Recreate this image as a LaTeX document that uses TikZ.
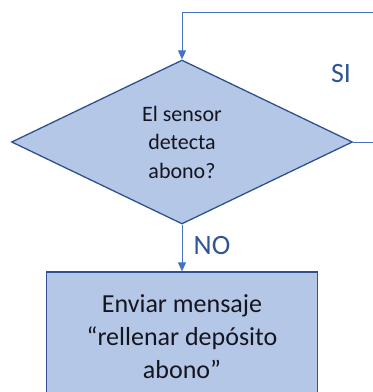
\documentclass[tikz,border=0pt]{standalone}
\usepackage{fontspec}
\setmainfont{Carlito}
\usetikzlibrary{shapes.geometric,arrows.meta}
\definecolor{relleno}{HTML}{B4C7E7}
\definecolor{borde}{HTML}{2F528F}
\definecolor{linea}{HTML}{4472C4}
\definecolor{etiqueta}{HTML}{2F5597}
\definecolor{texto}{HTML}{15151F}

\begin{document}
\begin{tikzpicture}[x=1pt,y=-1pt,
  decision/.style={diamond, aspect=2.08, draw=borde, fill=relleno, line width=1.3pt,
    minimum width=341pt, minimum height=164pt, inner sep=0pt, align=center,
    text=texto, font=\fontsize{22}{28.5}\selectfont},
  proceso/.style={rectangle, draw=borde, fill=relleno, line width=1.3pt,
    minimum width=271pt, minimum height=130pt, inner sep=0pt, align=center,
    text=texto, font=\fontsize{26}{33}\selectfont},
  flecha/.style={draw=linea, line width=0.9pt, -{Triangle[length=9pt,width=8pt]}},
  rotulo/.style={text=etiqueta, font=\fontsize{28}{30}\selectfont, inner sep=0pt}]

\useasboundingbox (0,0) rectangle (373,392);
\clip (0,0) rectangle (373,392);

\node[decision] (sensor) at (182,142) {El sensor\\detecta\\abono?};
\node[proceso] (aviso) at (182,337) {Enviar mensaje\\“rellenar depósito\\abono”};

% lazo de vuelta
\coordinate (lazoA) at (378,142);
\coordinate (lazoB) at (378,12);
\coordinate (lazoC) at (182,12);
\draw[flecha] (sensor.east) -- (lazoA) -- (lazoB) -- (lazoC) -- (sensor.north);
\node[rotulo] (si) at (341,74) {SI};

\draw[flecha] (sensor.south) -- (aviso.north);
\node[rotulo] (no) at (212,246) {NO};
\end{tikzpicture}
\end{document}
